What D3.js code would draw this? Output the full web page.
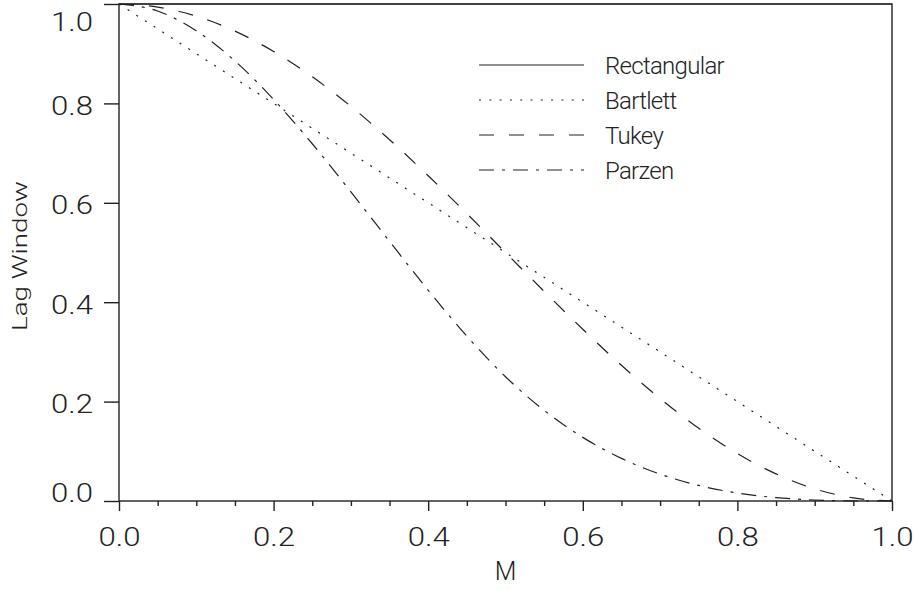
<!DOCTYPE html>
<html>
<head>
<meta charset="utf-8">
<script src="https://cdn.jsdelivr.net/npm/d3@7"></script>
<style>
  html, body { margin: 0; padding: 0; background: #fff; }
  svg text { font-family: Roboto, "DejaVu Sans", sans-serif; font-weight: 300; fill: #222; }
</style>
</head>
<body>
<svg id="chart" width="915" height="590"></svg>
<script>
// ---- data ----
const lags = [0, 0.05, 0.1, 0.15, 0.2, 0.25, 0.3, 0.35, 0.4, 0.45, 0.5,
              0.55, 0.6, 0.65, 0.7, 0.75, 0.8, 0.85, 0.9, 0.95, 1.0];
const rectangular = [1, 1, 1, 1, 1, 1, 1, 1, 1, 1, 1, 1, 1, 1, 1, 1, 1, 1, 1, 1, 1];
const bartlett = [1, 0.95, 0.9, 0.85, 0.8, 0.75, 0.7, 0.65, 0.6, 0.55, 0.5,
                  0.45, 0.4, 0.35, 0.3, 0.25, 0.2, 0.15, 0.1, 0.05, 0];
const tukey = [1, 0.9938, 0.9755, 0.9455, 0.9045, 0.8536, 0.7939, 0.727, 0.6545, 0.5782, 0.5,
               0.4218, 0.3455, 0.273, 0.2061, 0.1464, 0.0955, 0.0545, 0.0245, 0.0062, 0];
const parzen = [1, 0.9858, 0.946, 0.8853, 0.808, 0.7188, 0.622, 0.5223, 0.424, 0.3318, 0.25,
                0.1823, 0.128, 0.0858, 0.054, 0.0313, 0.016, 0.0068, 0.002, 0.0003, 0];
const seriesNames = ["Rectangular", "Bartlett", "Tukey", "Parzen"];
const xTickValues = [0, 0.2, 0.4, 0.6, 0.8, 1.0];
const xMinorTickValues = [0.05, 0.1, 0.15, 0.25, 0.3, 0.35, 0.45, 0.5, 0.55, 0.65, 0.7, 0.75, 0.85, 0.9, 0.95];
const yTickValues = [0, 0.2, 0.4, 0.6, 0.8, 1.0];
const xTitle = "M";
const yTitle = "Lag Window";

// ---- layout ----
const svg = d3.select("#chart");
const mLeft = 119, mRight = 892, mTop = 4, mBottom = 501;
const x = d3.scaleLinear().domain([0, 1]).range([mLeft, mRight]);
const y = d3.scaleLinear().domain([0, 1]).range([mBottom, mTop]);

const dashes = ["none", "2,8.3", "15,15", "15,8,3,8"];
const seriesData = [rectangular, bartlett, tukey, parzen];

// curves
const line = d3.line().x((d, i) => x(lags[i])).y(d => y(d)).curve(d3.curveMonotoneX);
svg.append("g").selectAll("path").data(seriesData).join("path")
  .attr("d", d => line(d))
  .attr("fill", "none")
  .attr("stroke", "#222")
  .attr("stroke-width", 1.2)
  .attr("stroke-dasharray", (d, i) => dashes[i]);

// axes
const fmt = d3.format(".1f");
const xAxis = svg.append("g").attr("transform", `translate(0,${mBottom})`)
  .call(d3.axisBottom(x).tickValues(xTickValues).tickSize(10).tickPadding(17).tickFormat(fmt));
const xMinor = svg.append("g").attr("transform", `translate(0,${mBottom})`)
  .call(d3.axisBottom(x).tickValues(xMinorTickValues).tickSize(5).tickFormat(""));
const yAxis = svg.append("g").attr("transform", `translate(${mLeft},0)`)
  .call(d3.axisLeft(y).tickValues(yTickValues).tickSize(15).tickPadding(11).tickFormat(fmt));

[xAxis, xMinor, yAxis].forEach(g => {
  g.select(".domain").remove();
  g.selectAll(".tick line").attr("stroke", "#222").attr("stroke-width", 1.4);
  g.selectAll(".tick text").attr("font-size", 26).attr("fill", "#222")
    .attr("textLength", 42).attr("lengthAdjust", "spacingAndGlyphs")
    .style("font-family", "Roboto, 'DejaVu Sans', sans-serif").style("font-weight", 300);
});
yAxis.selectAll(".tick text")
  .attr("dy", d => d === 1 ? "1.0em" : (d === 0 ? "-0.0em" : "0.42em"));

// frame
svg.append("rect")
  .attr("x", mLeft).attr("y", mTop)
  .attr("width", mRight - mLeft).attr("height", mBottom - mTop)
  .attr("fill", "none").attr("stroke", "#222").attr("stroke-width", 1.4);

// titles
svg.append("text")
  .attr("x", (mLeft + mRight) / 2).attr("y", 580)
  .attr("text-anchor", "middle").attr("font-size", 25)
  .text(xTitle);
svg.append("text")
  .attr("transform", `translate(27,256) rotate(-90)`)
  .attr("text-anchor", "middle").attr("font-size", 20)
  .attr("textLength", 150).attr("lengthAdjust", "spacingAndGlyphs")
  .text(yTitle);

// legend
const legend = svg.append("g");
const rowY = i => 65 + i * 35;
legend.selectAll("line").data(seriesNames).join("line")
  .attr("x1", 479).attr("x2", 584)
  .attr("y1", (d, i) => rowY(i)).attr("y2", (d, i) => rowY(i))
  .attr("stroke", "#222").attr("stroke-width", 1.2)
  .attr("stroke-dasharray", (d, i) => dashes[i]);
legend.selectAll("text").data(seriesNames).join("text")
  .attr("x", 605).attr("y", (d, i) => rowY(i))
  .attr("dy", "0.36em").attr("font-size", 24)
  .attr("letter-spacing", -0.7)
  .text(d => d);
</script>
</body>
</html>
